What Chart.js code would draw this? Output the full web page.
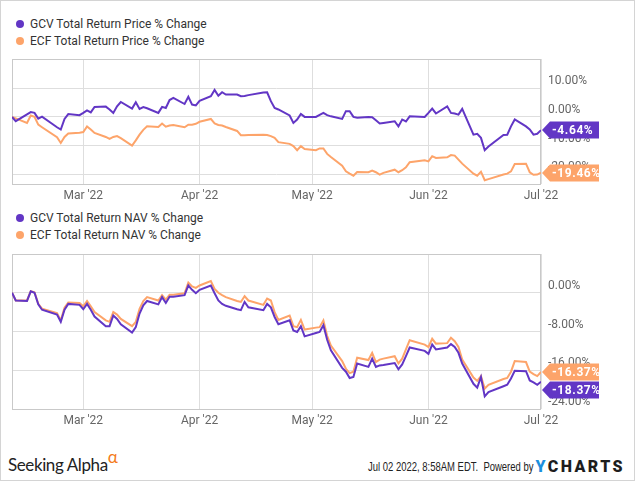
<!DOCTYPE html>
<html>
<head>
<meta charset="utf-8">
<script src="https://cdn.jsdelivr.net/npm/chart.js@4.4.1/dist/chart.umd.min.js"></script>
<style>
  html, body { margin: 0; padding: 0; background: #fff; }
  #frame { position: relative; width: 635px; height: 481px; box-sizing: border-box; border: 1px solid #d4d4d4; overflow: hidden; font-family: Roboto, sans-serif; }
  canvas { position: absolute; left: 0; }
  .legend { position: absolute; left: 15px; font-size: 12px; color: #333; line-height: 17px; }
  .legend span.dot { display: inline-block; width: 8px; height: 8px; border-radius: 50%; margin-right: 6px; vertical-align: 0px; }
  #brand { position: absolute; left: 7px; top: 446px; font-family: Lato, sans-serif; font-size: 17px; color: #222; letter-spacing: -0.4px; }
  #brand sup { color: #f47b20; font-size: 17px; position: relative; top: -1px; }
  #stamp { position: absolute; right: 9px; top: 455px; white-space: nowrap; }
  #stamp .when { display: inline-block; font-family: 'Liberation Sans', Arial, sans-serif; font-size: 12px; color: #222; transform: scaleX(0.79); transform-origin: right center; }
  #stamp b { font-family: Roboto, sans-serif; font-size: 16px; font-weight: 900; letter-spacing: 2.4px; color: #1d1d1d; margin-left: 2px; vertical-align: -1px; }
  #stamp b i { font-style: normal; color: #1c8fde; }
</style>
</head>
<body>
<div id="frame">
  <div class="legend" style="top:15px">
    <div><span class="dot" style="background:#6236c5"></span>GCV Total Return Price % Change</div>
    <div><span class="dot" style="background:#fda46a"></span>ECF Total Return Price % Change</div>
  </div>
  <canvas id="chartPrice" width="635" height="200" style="top:0"></canvas>
  <div class="legend" style="top:209px">
    <div><span class="dot" style="background:#6236c5"></span>GCV Total Return NAV % Change</div>
    <div><span class="dot" style="background:#fda46a"></span>ECF Total Return NAV % Change</div>
  </div>
  <canvas id="chartNav" width="635" height="230" style="top:200px"></canvas>
  <div id="brand">Seeking Alpha<sup>&alpha;</sup></div>
  <div id="stamp"><span class="when">Jul 02 2022, 8:58AM EDT.&nbsp; Powered by</span><b><i>Y</i>CHARTS</b></div>
</div>
<script>
'use strict';

Chart.defaults.font.family = "Roboto, sans-serif";
Chart.defaults.font.size = 12;
Chart.defaults.color = '#555';

// Trading days shown (Feb 10 - Jul 1 2022)
const tradeDates = [
  '2022-02-10','2022-02-11','2022-02-14','2022-02-15','2022-02-16','2022-02-17','2022-02-18','2022-02-22','2022-02-23','2022-02-24','2022-02-25','2022-02-28',
  '2022-03-01','2022-03-02','2022-03-03','2022-03-04','2022-03-07','2022-03-08','2022-03-09','2022-03-10','2022-03-11','2022-03-14','2022-03-15','2022-03-16',
  '2022-03-17','2022-03-18','2022-03-21','2022-03-22','2022-03-23','2022-03-24','2022-03-25','2022-03-28','2022-03-29','2022-03-30','2022-03-31',
  '2022-04-01','2022-04-04','2022-04-05','2022-04-06','2022-04-07','2022-04-08','2022-04-11','2022-04-12','2022-04-13','2022-04-14','2022-04-18','2022-04-19',
  '2022-04-20','2022-04-21','2022-04-22','2022-04-25','2022-04-26','2022-04-27','2022-04-28','2022-04-29',
  '2022-05-02','2022-05-03','2022-05-04','2022-05-05','2022-05-06','2022-05-09','2022-05-10','2022-05-11','2022-05-12','2022-05-13','2022-05-16','2022-05-17',
  '2022-05-18','2022-05-19','2022-05-20','2022-05-23','2022-05-24','2022-05-25','2022-05-26','2022-05-27','2022-05-31',
  '2022-06-01','2022-06-02','2022-06-03','2022-06-06','2022-06-07','2022-06-08','2022-06-09','2022-06-10','2022-06-13','2022-06-14','2022-06-15','2022-06-16',
  '2022-06-17','2022-06-21','2022-06-22','2022-06-23','2022-06-24','2022-06-27','2022-06-28','2022-06-29','2022-06-30',
  '2022-07-01'
];

// Price % change
const gcvPrice = [
  0, -1.5, 0.9, 1.7, 1.4, -0.6, 0.1, -3.6, -4.4, -0.7, 1.0, 0.6,
  1.4, 2.3, 1.6, 3.5, 3.6, 2.6, 1.4, 3.7, 5.2, 2.9, 5.1, 2.8, 3.4, 3.0, 1.4, 3.5, 3.1, 5.9, 6.6, 4.5, 7.0, 4.3, 4.0,
  5.6, 7.2, 9.4, 7.4, 8.6, 7.8, 7.8, 7.2, 7.3, 7.6, 8.5, 8.6, 5.5, 3.1, 2.6, 0.5, -2.1, -0.9, 1.0, 0,
  0.0, 0.7, 1.4, 0.6, 0.2, -0.7, 2.0, 2.0, 0.0, -0.3, 0, -0.1, -1.2, -2.3, -2.1, -1.5, -3.3, -0.9, -1.6, 0.2, 0,
  1.4, 2.9, 1.2, 3.7, 1.4, 1.2, 0.8, 2.8, -6.2, -5.9, -7.3, -11.6, -10.3, -6.3, -6.2, -3.3, -0.9, -3.3, -4.4, -6.2, -5.9,
  -4.64
];
const ecfPrice = [
  0, -0.5, -2.1, 0.5, 0, -2.7, -3.6, -7.1, -9.1, -7.0, -5.8, -5.5,
  -5.3, -3.3, -4.4, -5.6, -7.0, -7.7, -7.0, -6.7, -7.4, -10.0, -8.2, -6.2, -4.5, -3.3, -3.5, -2.3, -3.4, -3.0, -2.8, -3.6, -2.7, -2.7, -2.4,
  -1.7, -0.7, -2.3, -2.8, -3.0, -3.5, -4.9, -6.4, -6.4, -6.3, -6.2, -6.3, -6.7, -7.3, -8.8, -9.4, -10.2, -11.6, -10.2, -11.2,
  -11.6, -11.0, -11.0, -12.9, -14.0, -17.0, -19.0, -19.8, -20.5, -19.2, -19.3, -18.7, -19.3, -20.1, -19.5, -18.4, -19.3, -18.6, -17.6, -15.8, -15.1,
  -15.5, -13.7, -14.3, -14.1, -13.3, -13.5, -14.9, -16.3, -19.8, -20.5, -19.1, -22.1, -21.7, -20.1, -19.8, -19.0, -16.4, -16.3, -19.3, -20.2, -20.1,
  -19.46
];

// NAV % change
const gcvNav = [
  0, -1.6, -1.7, 0.3, 0, -2.4, -3.5, -4.5, -6.0, -3.5, -2.3, -2.5,
  -3.4, -2.3, -3.5, -4.9, -6.9, -6.9, -4.7, -5.4, -6.5, -8.2, -7.1, -4.3, -2.6, -1.7, -2.4, -0.9, -2.1, -0.8, -0.8, -0.5, 1.5, 0.6, -0.1,
  0.6, 1.5, -0.1, -1.6, -2.3, -2.7, -3.4, -3.6, -1.9, -3.0, -3.6, -2.3, -3.0, -5.0, -6.5, -5.7, -7.8, -8.1, -6.9, -9.0,
  -8.3, -8.1, -6.7, -9.7, -11.9, -15.5, -16.3, -17.6, -17.4, -14.6, -15.3, -13.6, -15.3, -15.0, -14.9, -14.5, -15.8, -14.8, -13.1, -11.3, -12.0,
  -12.6, -10.7, -11.7, -11.3, -10.6, -11.2, -12.4, -14.6, -18.8, -19.6, -17.4, -21.4, -20.5, -19.3, -19.0, -17.7, -16.1, -16.2, -18.1, -18.5, -19.0,
  -18.37
];
const ecfNav = [
  0, -1.6, -1.6, 0.3, 0.1, -2.3, -3.3, -4.2, -5.7, -3.1, -2.0, -2.1,
  -2.8, -1.7, -2.8, -4.0, -5.7, -6.0, -4.0, -4.5, -5.4, -6.9, -6.0, -3.3, -1.7, -0.9, -1.6, -0.5, -1.4, -0.4, -0.4, -0.1, 2.1, 1.3, 1.0,
  1.5, 2.4, 0.8, 0, -0.5, -0.9, -1.7, -1.9, -0.7, -1.6, -2.5, -1.2, -1.6, -4.0, -5.6, -4.7, -6.9, -7.1, -5.6, -7.6,
  -7.2, -7.1, -5.7, -8.9, -10.9, -14.1, -15.7, -16.6, -16.3, -13.4, -13.9, -12.4, -14.3, -13.8, -13.6, -13.1, -14.6, -13.6, -11.7, -9.8, -10.7,
  -11.2, -9.5, -10.5, -10.4, -9.3, -10.0, -11.2, -13.8, -17.5, -18.2, -17.2, -19.8, -19.0, -17.8, -17.6, -16.3, -14.1, -14.3, -16.3, -16.8, -17.2,
  -16.37
];

// Axis ticks
const monthTickDates = ['2022-03-01', '2022-04-01', '2022-05-01', '2022-06-01', '2022-07-01'];
const monthTickLabels = ["Mar '22", "Apr '22", "May '22", "Jun '22", "Jul '22"];
const priceTicks = [-20, -10, 0, 10];
const navTicks = [-24, -16, -8, 0];

const PURPLE = '#6236c5';
const ORANGE = '#fda46a';

// days since first trading day (linear x scale, no date adapter needed)
const t0 = Date.parse(tradeDates[0]);
const toDay = s => Math.round((Date.parse(s) - t0) / 86400000);
const xDays = tradeDates.map(toDay);
const pts = vals => vals.map((v, i) => ({ x: xDays[i], y: v }));

// box around the plot area
const frameBox = {
  id: 'frameBox',
  beforeDatasetsDraw(chart) {
    const a = chart.chartArea, c = chart.ctx;
    c.save();
    c.strokeStyle = '#c9c9c9';
    c.lineWidth = 1;
    c.strokeRect(Math.round(a.left) + 0.5, Math.round(a.top) + 0.5, Math.round(a.right - a.left) - 1, Math.round(a.bottom - a.top));
    c.restore();
  }
};

// last-value tags on the right axis
const endTags = {
  id: 'endTags',
  afterDraw(chart) {
    const c = chart.ctx, a = chart.chartArea;
    const tags = chart.data.datasets.map((ds, i) => {
      const meta = chart.getDatasetMeta(i);
      const el = meta.data[meta.data.length - 1];
      return { y: el.y, color: ds.borderColor, text: ds.data[ds.data.length - 1].y.toFixed(2) + '%' };
    }).sort((p, q) => p.y - q.y);
    const h = 17;
    for (let i = 1; i < tags.length; i++) {
      if (tags[i].y - tags[i - 1].y < h + 1) tags[i].y = tags[i - 1].y + h + 1;
    }
    c.save();
    tags.forEach(t => {
      const x0 = Math.round(a.right) + 1, x1 = x0 + 57, y = Math.round(t.y);
      c.fillStyle = t.color;
      c.beginPath();
      c.moveTo(x0, y);
      c.lineTo(x0 + 8, y - h / 2);
      c.lineTo(x1, y - h / 2);
      c.lineTo(x1, y + h / 2);
      c.lineTo(x0 + 8, y + h / 2);
      c.closePath();
      c.fill();
      c.fillStyle = '#fff';
      c.font = 'bold 12px Roboto';
      if ('letterSpacing' in c) c.letterSpacing = '0.6px';
      c.textAlign = 'left';
      c.textBaseline = 'middle';
      c.fillText(t.text, x0 + 10, y + 1);
    });
    c.restore();
  }
};

function buildChart(canvasId, gcv, ecf, yMin, yMax, yTicks, padTop, xHeight) {
  const ctx = document.getElementById(canvasId).getContext('2d');
  return new Chart(ctx, {
    type: 'line',
    data: {
      datasets: [
        { data: pts(gcv), borderColor: PURPLE, borderWidth: 2, pointRadius: 0, tension: 0, fill: false },
        { data: pts(ecf), borderColor: ORANGE, borderWidth: 2, pointRadius: 0, tension: 0, fill: false }
      ]
    },
    options: {
      responsive: false,
      animation: false,
      devicePixelRatio: 1,
      layout: { padding: { top: padTop, left: 11, right: 0, bottom: 0 } },
      plugins: { legend: { display: false }, tooltip: { enabled: false } },
      scales: {
        x: {
          type: 'linear',
          min: 0,
          max: xDays[xDays.length - 1],
          afterBuildTicks: s => { s.ticks = monthTickDates.map(d => ({ value: toDay(d) })); },
          afterFit: s => { s.height = xHeight; },
          grid: { color: '#dedede', drawTicks: false },
          border: { display: false },
          ticks: {
            padding: 5,
            color: '#666',
            maxRotation: 0,
            autoSkip: false,
            callback: v => monthTickLabels[monthTickDates.map(toDay).indexOf(v)]
          }
        },
        y: {
          position: 'right',
          min: yMin,
          max: yMax,
          afterBuildTicks: s => { s.ticks = yTicks.map(v => ({ value: v })); },
          afterFit: s => { s.width = 95; },
          grid: { color: '#dedede', drawTicks: false },
          border: { display: false },
          ticks: {
            padding: 7,
            labelOffset: -7,
            color: '#666',
            autoSkip: false,
            callback: v => v.toFixed(2) + '%'
          }
        }
      }
    },
    plugins: [frameBox, endTags]
  });
}

buildChart('chartPrice', gcvPrice, ecfPrice, -23.4, 20.2, priceTicks, 58, 17);
buildChart('chartNav', gcvNav, ecfNav, -24, 8, navTicks, 53, 22);
</script>
</body>
</html>
